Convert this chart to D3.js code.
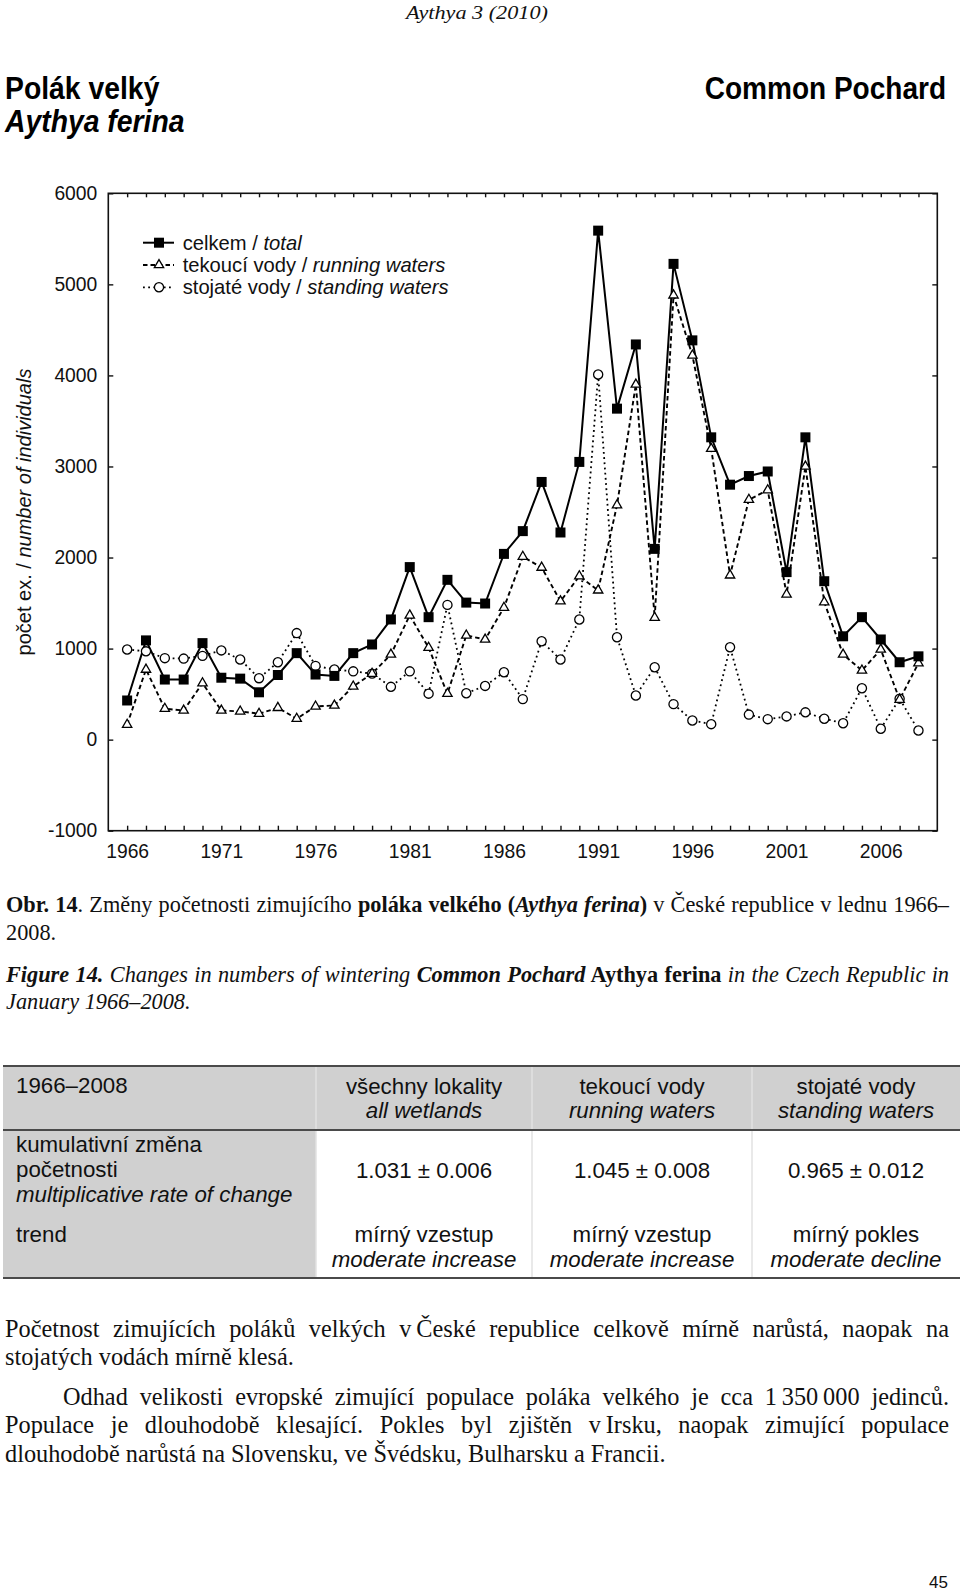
<!DOCTYPE html>
<html>
<head>
<meta charset="utf-8">
<script src="https://cdn.jsdelivr.net/npm/d3@7"></script>
<style>
  body { margin: 0; background: #fff; }
  svg { display: block; }
  .sans { font-family: "Liberation Sans", Arial, Helvetica, sans-serif; }
  .serif { font-family: "Liberation Serif", "Times New Roman", Times, serif; }
</style>
</head>
<body>
<div id="page"></div>
<script>
// --- data ---
const years = d3.range(1966, 2009)
const total = [430, 1090, 660, 660, 1060, 680, 670, 520, 710, 950,
  715, 700, 950, 1045, 1320, 1895, 1345, 1755, 1505, 1495,
  2040, 2290, 2830, 2275, 3050, 5590, 3635, 4340, 2095, 5225,
  4385, 3320, 2800, 2895, 2945, 1840, 3320, 1740, 1135, 1345,
  1100, 850, 915]
const running = [165, 770, 340, 320, 620, 320, 310, 285, 350, 230,
  365, 375, 585, 725, 935, 1365, 1010, 505, 1145, 1100,
  1450, 2010, 1890, 1520, 1795, 1640, 2575, 3900, 1340, 4880,
  4220, 3195, 1805, 2635, 2740, 1595, 3000, 1510, 935, 760,
  990, 440, 840]
const standing = [990, 970, 895, 890, 920, 980, 880, 675, 850, 1170,
  810, 770, 750, 725, 580, 750, 505, 1480, 510, 590,
  740, 445, 1080, 880, 1320, 4010, 1125, 485, 795, 390,
  210, 170, 1015, 275, 225, 255, 300, 230, 180, 565,
  120, 450, 100]
const yTicks = [-1000, 0, 1000, 2000, 3000, 4000, 5000, 6000]
const yearLabels = [1966, 1971, 1976, 1981, 1986, 1991, 1996, 2001, 2006]
const seriesNames = [["celkem / ", "total"], ["tekoucí vody / ", "running waters"], ["stojaté vody / ", "standing waters"]]

// table
const tableCols = [["všechny lokality", "all wetlands"], ["tekoucí vody", "running waters"], ["stojaté vody", "standing waters"]]
const rateValues = ["1.031 ± 0.006", "1.045 ± 0.008", "0.965 ± 0.012"]
const trendCz = ["mírný vzestup", "mírný vzestup", "mírný pokles"]
const trendEn = ["moderate increase", "moderate increase", "moderate decline"]

// text blocks: [text, style] parts
const captionCz = [
  [["Obr. 14", "b"], [". Změny početnosti zimujícího ", ""], ["poláka velkého (", "b"], ["Aythya ferina", "bi"], [")", "b"], [" v České republice v lednu 1966–", ""]],
  [["2008.", ""]]
]
const captionEn = [
  [["Figure 14.", "bi"], [" Changes in numbers of wintering ", "i"], ["Common Pochard", "bi"], [" Aythya ferina", "b"], [" in the Czech Republic in", "i"]],
  [["January 1966–2008.", "i"]]
]
const para1 = ["Početnost zimujících poláků velkých v\u2009České republice celkově mírně narůstá, naopak na",
  "stojatých vodách mírně klesá."]
const para2 = ["Odhad velikosti evropské zimující populace poláka velkého je cca 1\u2009350\u2009000 jedinců.",
  "Populace je dlouhodobě klesající. Pokles byl zjištěn v\u2009Irsku, naopak zimující populace",
  "dlouhodobě narůstá na Slovensku, ve Švédsku, Bulharsku a Francii."]

// --- page ---
const width = 960
const height = 1592
const svg = d3.select("#page").append("svg").attr("width", width).attr("height", height)
svg.append("rect").attr("width", width).attr("height", height).attr("fill", "#fff")

const ink = "#111"

function richLine(parent, x, y, parts, cls, size) {
  const t = parent.append("text").attr("x", x).attr("y", y).attr("class", cls)
    .attr("font-size", size).attr("fill", ink)
  parts.forEach(p => {
    t.append("tspan").text(p[0])
      .attr("font-weight", p[1].includes("b") ? "bold" : null)
      .attr("font-style", p[1].includes("i") ? "italic" : null)
  })
  return t
}
function justify(t, x0, x1) {
  const w = t.node().getComputedTextLength()
  const n = (t.text().match(/ /g) || []).length
  if (n > 0) t.attr("word-spacing", (x1 - x0 - w) / n)
}

// header
svg.append("text").attr("class", "serif").attr("transform", "translate(477,19) scale(1.14,1)")
  .attr("text-anchor", "middle").attr("font-size", 19.5).attr("font-style", "italic")
  .attr("fill", ink).text("Aythya 3 (2010)")
svg.append("text").attr("class", "sans").attr("transform", "translate(5,99) scale(0.9,1)")
  .attr("font-size", 31.5).attr("font-weight", "bold").attr("fill", "#000").text("Polák velký")
svg.append("text").attr("class", "sans").attr("transform", "translate(5,132) scale(0.9,1)")
  .attr("font-size", 31.5).attr("font-weight", "bold").attr("font-style", "italic").attr("fill", "#000").text("Aythya ferina")
svg.append("text").attr("class", "sans").attr("transform", "translate(946,99) scale(0.89,1)")
  .attr("text-anchor", "end").attr("font-size", 31.5).attr("font-weight", "bold").attr("fill", "#000").text("Common Pochard")

// --- chart ---
const plot = { left: 108.3, right: 937.3, top: 193.3, bottom: 830.7 }
const x = d3.scaleLinear().domain([1965, 2009]).range([plot.left, plot.right])
const y = d3.scaleLinear().domain([-1000, 6000]).range([plot.bottom, plot.top])

const chart = svg.append("g")
const fontFam = "Liberation Sans, Arial, Helvetica, sans-serif"

function styleAxis(g) {
  g.attr("font-size", 19.3).attr("font-family", fontFam)
  g.select(".domain").remove()
  g.selectAll(".tick line").attr("stroke", ink).attr("stroke-width", 1.4)
  g.selectAll(".tick text").attr("fill", ink)
}

chart.append("g").attr("transform", `translate(0,${plot.bottom})`)
  .call(d3.axisBottom(x).tickValues(years).tickSizeInner(-5).tickSizeOuter(0).tickPadding(14)
    .tickFormat(d => yearLabels.includes(d) ? d : ""))
  .call(styleAxis)
chart.append("g").attr("transform", `translate(0,${plot.top})`)
  .call(d3.axisTop(x).tickValues(years).tickSizeInner(-4).tickSizeOuter(0).tickFormat(""))
  .call(styleAxis)
chart.append("g").attr("transform", `translate(${plot.left},0)`)
  .call(d3.axisLeft(y).tickValues(yTicks).tickSizeInner(-5).tickSizeOuter(0).tickPadding(11)
    .tickFormat(d => String(d)))
  .call(styleAxis)
chart.append("g").attr("transform", `translate(${plot.right},0)`)
  .call(d3.axisRight(y).tickValues(yTicks).tickSizeInner(-5).tickSizeOuter(0).tickFormat(""))
  .call(styleAxis)

chart.append("rect")
  .attr("x", plot.left).attr("y", plot.top)
  .attr("width", plot.right - plot.left).attr("height", plot.bottom - plot.top)
  .attr("fill", "none").attr("stroke", ink).attr("stroke-width", 1.6)

// y title
const yt = chart.append("text").attr("class", "sans").attr("font-size", 20).attr("fill", ink)
  .attr("text-anchor", "middle")
  .attr("transform", `translate(31,${(plot.top + plot.bottom) / 2}) rotate(-90)`)
yt.append("tspan").text("počet ex. / ")
yt.append("tspan").attr("font-style", "italic").text("number of individuals")

const series = [
  { values: standing, dash: "1.8,3.4", lw: 1.8, marker: "circle" },
  { values: running, dash: "4.5,3", lw: 1.9, marker: "triangle" },
  { values: total, dash: null, lw: 2, marker: "square" }
]
const symbols = {
  circle: d3.symbol(d3.symbolCircle, 66),
  triangle: d3.symbol(d3.symbolTriangle, 38),
  square: d3.symbol(d3.symbolSquare, 100)
}
function drawMarker(g, kind, cx, cy) {
  g.append("path").attr("d", symbols[kind]())
    .attr("transform", `translate(${cx},${cy})`)
    .attr("fill", kind === "square" ? "#000" : "#fff")
    .attr("stroke", "#000").attr("stroke-width", kind === "square" ? 0 : 1.3)
}

const line = d3.line().x((d, i) => x(years[i])).y(d => y(d))
series.forEach(s => {
  chart.append("path").datum(s.values).attr("d", line)
    .attr("fill", "none").attr("stroke", "#000").attr("stroke-width", s.lw)
    .attr("stroke-dasharray", s.dash).attr("stroke-linejoin", "miter")
})
series.forEach(s => {
  const mg = chart.append("g")
  s.values.forEach((v, i) => drawMarker(mg, s.marker, x(years[i]), y(v)))
})

// legend
const legendOrder = [series[2], series[1], series[0]]
const legend = chart.append("g")
legendOrder.forEach((s, i) => {
  const cy = 242.7 + i * 22.3
  legend.append("line").attr("x1", 143).attr("x2", 174).attr("y1", cy).attr("y2", cy)
    .attr("stroke", "#000").attr("stroke-width", s.lw).attr("stroke-dasharray", s.dash)
  drawMarker(legend, s.marker, 159, cy)
  const t = legend.append("text").attr("class", "sans").attr("x", 182.7).attr("y", cy + 7)
    .attr("font-size", 20.2).attr("fill", ink)
  t.append("tspan").text(seriesNames[i][0])
  t.append("tspan").attr("font-style", "italic").text(seriesNames[i][1])
})

// --- captions ---
const textRight = 949
captionCz.forEach((parts, i) => {
  const t = richLine(svg, 6, 911.5 + i * 28, parts, "serif", 22.3)
  if (i === 0) justify(t, 6, textRight)
})
captionEn.forEach((parts, i) => {
  const t = richLine(svg, 6, 981.5 + i * 27, parts, "serif", 22.3)
  if (i === 0) justify(t, 6, textRight)
})

// --- table ---
const tb = svg.append("g").attr("class", "sans")
const colX = [3, 316, 532, 752, 960]
const tTop = 1066, tHead = 1130, tBottom = 1278
tb.append("rect").attr("x", colX[0]).attr("y", tTop).attr("width", colX[4] - colX[0]).attr("height", tHead - tTop).attr("fill", "#d0d0d0")
tb.append("rect").attr("x", colX[0]).attr("y", tHead).attr("width", colX[1] - colX[0]).attr("height", tBottom - tHead).attr("fill", "#d0d0d0")
colX.slice(1, 4).forEach(cx => {
  tb.append("line").attr("x1", cx).attr("x2", cx).attr("y1", tTop).attr("y2", tBottom)
    .attr("stroke", "#e2e2e2").attr("stroke-width", 1.5)
})
;[tTop, tHead, tBottom].forEach(ly => {
  tb.append("line").attr("x1", colX[0]).attr("x2", colX[4]).attr("y1", ly).attr("y2", ly)
    .attr("stroke", "#4a4a4a").attr("stroke-width", 2)
})
function cell(txt, cx, cy, italic, anchor) {
  tb.append("text").attr("x", cx).attr("y", cy).attr("font-size", 22.3).attr("fill", ink)
    .attr("text-anchor", anchor || "middle").attr("font-style", italic ? "italic" : null).text(txt)
}
cell("1966–2008", 16, 1093, false, "start")
cell("kumulativní změna", 16, 1151.5, false, "start")
cell("početnosti", 16, 1177, false, "start")
cell("multiplicative rate of change", 16, 1202, true, "start")
cell("trend", 16, 1241.5, false, "start")
tableCols.forEach((c, i) => {
  const cx = (colX[i + 1] + colX[i + 2]) / 2
  cell(c[0], cx, 1094, false)
  cell(c[1], cx, 1118, true)
  cell(rateValues[i], cx, 1177.5, false)
  cell(trendCz[i], cx, 1242, false)
  cell(trendEn[i], cx, 1267, true)
})

// --- body text ---
para1.forEach((s, i) => {
  const t = richLine(svg, 5, 1337 + i * 28.3, [[s, ""]], "serif", 24.3)
  if (i === 0) justify(t, 5, textRight)
})
para2.forEach((s, i) => {
  const x0 = i === 0 ? 63 : 5
  const t = richLine(svg, x0, 1405 + i * 28.3, [[s, ""]], "serif", 24.3)
  if (i < 2) justify(t, x0, textRight)
})

// page number
svg.append("text").attr("class", "sans").attr("x", 948).attr("y", 1588)
  .attr("text-anchor", "end").attr("font-size", 17).attr("fill", ink).text("45")
</script>
</body>
</html>
